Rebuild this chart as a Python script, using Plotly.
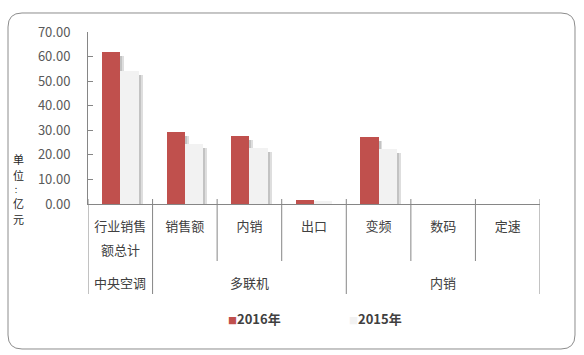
import plotly.graph_objects as go

# ---------------- data ----------------
categories = ["行业销售额总计", "销售额", "内销", "出口", "变频", "数码", "定速"]
category_labels = ["行业销售<br>额总计", "销售额", "内销", "出口", "变频", "数码", "定速"]
groups = ["中央空调", "多联机", "内销"]
group_sizes = [1, 3, 3]
series_names = ["2016年", "2015年"]
values_2016 = [61.7, 29.2, 27.7, 1.6, 27.4, None, None]
values_2015 = [54.3, 24.3, 22.7, 1.2, 22.2, None, None]
y_ticks = [0, 10, 20, 30, 40, 50, 60, 70]
y_title = "单位：亿元"

# ---------------- styling ----------------
W, H = 584, 355
PL, PR, PT, PB = 88, 540, 32, 204          # plot area in pixels
FONT = "Noto Sans CJK SC"
RED = "#C0504D"
LIGHT = "#F2F2F2"
AXIS = "#868686"
BAR_W = 0.284
SHADOW_DX = 0.06
SHADOW_DROP = 1.6
LABEL_LINE1 = 226
LABEL_LINE_GAP = 23


def px_x(px):
    return (px - PL) / (PR - PL)


def px_y(py):
    return (PB - py) / (PB - PT)


fig = go.Figure()

series = [(series_names[0], values_2016, RED, -BAR_W),
          (series_names[1], values_2015, LIGHT, 0.0)]

# soft shadows (two layers for a gentle falloff)
for name, vals, color, off in series:
    for dx, alpha in [(SHADOW_DX, 0.13), (SHADOW_DX * 0.5, 0.12)]:
        fig.add_trace(go.Bar(
            x=categories, y=vals, base=-SHADOW_DROP, offset=off + dx, width=BAR_W,
            marker=dict(color=f"rgba(0,0,0,{alpha})", line=dict(width=0)),
            showlegend=False, hoverinfo="skip"))
# bars
for name, vals, color, off in series:
    fig.add_trace(go.Bar(
        x=categories, y=vals, name=name, offset=off, width=BAR_W,
        marker=dict(color=color, line=dict(width=0)),
        showlegend=False))

shapes = []
# rounded outer frame
x0, x1, y0, y1, r = 8, 575, 13, 349, 14
pts = [
    ("M", (x0 + r, y0)), ("L", (x1 - r, y0)), ("Q", (x1, y0), (x1, y0 + r)),
    ("L", (x1, y1 - r)), ("Q", (x1, y1), (x1 - r, y1)),
    ("L", (x0 + r, y1)), ("Q", (x0, y1), (x0, y1 - r)),
    ("L", (x0, y0 + r)), ("Q", (x0, y0), (x0 + r, y0)),
]
path = ""
for p in pts:
    cmd = p[0]
    coords = " ".join(f"{px_x(a):.5f},{px_y(b):.5f}" for a, b in p[1:])
    path += f"{cmd} {coords} "
path += "Z"
shapes.append(dict(type="path", xref="paper", yref="paper", path=path,
                   line=dict(color="#8C8C8C", width=1), layer="below"))

# category dividers
boundaries = {-0.5}
acc = 0
for s in group_sizes:
    acc += s
    boundaries.add(acc - 0.5)
for i in range(len(categories) + 1):
    xb = i - 0.5
    bottom = px_y(294) if xb in boundaries else px_y(261)
    shapes.append(dict(type="line", xref="x", yref="paper", x0=xb, x1=xb,
                       y0=px_y(199), y1=bottom, line=dict(color=AXIS, width=1)))

annotations = []
# category labels: first line as tick text, further lines below with Excel-like spacing
tick_first = []
for cat, lab in zip(categories, category_labels):
    lines = lab.split("<br>")
    tick_first.append(lines[0])
    for k, extra in enumerate(lines[1:], start=1):
        annotations.append(dict(text=extra, xref="x", yref="paper", x=cat,
                                y=px_y(LABEL_LINE1 + k * LABEL_LINE_GAP),
                                showarrow=False, yanchor="middle",
                                font=dict(family=FONT, size=13, color="#404040")))

# group labels
acc = 0
for g, s in zip(groups, group_sizes):
    center = acc + (s - 1) / 2
    annotations.append(dict(text=g, xref="x", yref="paper", x=center, y=px_y(282),
                            showarrow=False, yanchor="middle",
                            font=dict(family=FONT, size=13, color="#404040")))
    acc += s

# y title: upright characters stacked vertically (one text per character)
sizes = [8 if ch in "：:" else 11 for ch in y_title]
heights = [s * 1.46 for s in sizes]
total = sum(heights)
cur = 189 - total / 2
for ch, s, h in zip(y_title, sizes, heights):
    annotations.append(dict(text=ch, xref="paper", yref="paper",
                            x=px_x(18), y=px_y(cur + h / 2), showarrow=False,
                            xanchor="center", yanchor="middle",
                            borderpad=0, font=dict(family=FONT, size=s, color="#262626")))
    cur += h

# legend
for (name, vals, color, off), cx in zip(series, [254, 375]):
    annotations.append(dict(
        text=f"<span style='font-size:9px;color:{color}'>■</span><b>{name}</b>",
        xref="paper", yref="paper", x=px_x(cx), y=px_y(318), showarrow=False,
        xanchor="center", yanchor="middle",
        font=dict(family=FONT, size=13, color="#404040")))

fig.update_layout(
    width=W, height=H,
    margin=dict(l=PL, r=W - PR, t=PT, b=H - PB, autoexpand=False),
    paper_bgcolor="white", plot_bgcolor="white",
    barmode="overlay", bargap=0,
    font=dict(family=FONT, size=13, color="#404040"),
    showlegend=False,
    shapes=shapes, annotations=annotations,
)
fig.update_xaxes(type="category", categoryorder="array", categoryarray=categories,
                 tickvals=categories, ticktext=tick_first,
                 range=[-0.5, len(categories) - 0.5],
                 showline=True, linecolor=AXIS, linewidth=1, ticks="",
                 showgrid=False, zeroline=False, ticklabelstandoff=10,
                 tickfont=dict(family=FONT, size=13, color="#404040"))
fig.update_yaxes(range=[0, 70], tickvals=y_ticks, tickformat=".2f",
                 showline=True, linecolor=AXIS, linewidth=1,
                 ticks="inside", ticklen=5, tickcolor=AXIS,
                 showgrid=False, zeroline=False, ticklabelstandoff=14,
                 tickfont=dict(family=FONT, size=13, color="#595959"))

fig.write_html("out.html")
